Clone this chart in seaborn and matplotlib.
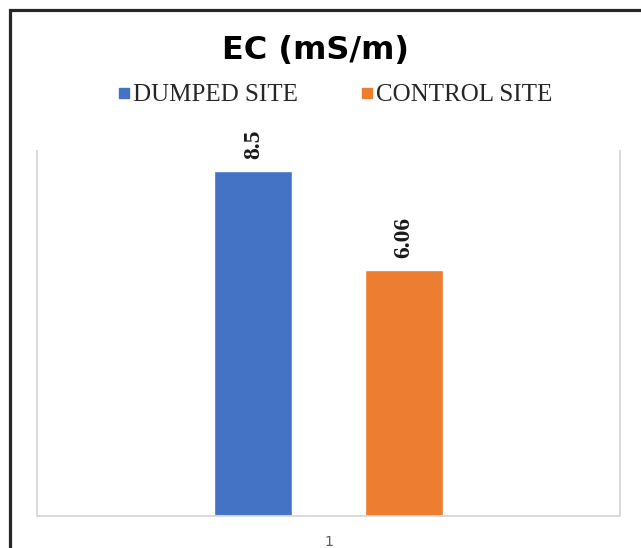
import matplotlib
matplotlib.use("Agg")
import matplotlib.pyplot as plt
import seaborn as sns
import pandas as pd
from matplotlib.patches import Rectangle
from matplotlib.lines import Line2D

categories = ["1"]
series = ["DUMPED SITE", "CONTROL SITE"]
values = [8.5, 6.06]
value_labels = ["8.5", "6.06"]
colors = ["#4472C4", "#ED7D31"]
title = "EC (mS/m)"

df = pd.DataFrame({"cat": categories * len(series), "site": series, "ec": values})

sns.set_theme(style="white")
W, H = 641, 548
fig = plt.figure(figsize=(W / 100, H / 100), dpi=100)
ax = fig.add_axes([37 / W, 1 - 516 / H, (620 - 37) / W, (516 - 151) / H])

sns.barplot(data=df, x="cat", y="ec", hue="site", palette=colors,
            width=0.515, gap=0.48, saturation=1, legend=False, ax=ax)

ax.set_xlim(-0.5, 0.5)
ax.set_ylim(0, 9)
ax.set_yticks([])
ax.set_xlabel("")
ax.set_ylabel("")
ax.tick_params(axis="x", length=0, pad=14, labelsize=10, labelcolor="#595959")
for s in ["left", "right", "bottom"]:
    ax.spines[s].set_visible(True)
    ax.spines[s].set_color("#D9D9D9")
    ax.spines[s].set_linewidth(1.4)
ax.spines["top"].set_visible(False)

for cont, lab in zip(ax.containers, value_labels):
    for bar in cont:
        ax.annotate(lab, (bar.get_x() + bar.get_width() / 2, bar.get_height()),
                    xytext=(0, 9), textcoords="offset points", rotation=90,
                    ha="center", va="bottom", family="Liberation Serif",
                    fontweight="bold", fontsize=17, color="#1a1a1a")

fig.text(315 / W, 1 - 50 / H, title, ha="center", va="center",
         fontsize=23, fontweight="bold", color="black")

handles = [Line2D([0], [0], marker="s", linestyle="none", markersize=7,
                  markerfacecolor=c, markeredgecolor=c) for c in colors]
fig.legend(handles, series, loc="center", bbox_to_anchor=(335 / W, 1 - 95 / H),
           ncol=2, frameon=False, handlelength=0.5, handletextpad=0.1,
           columnspacing=2.5, prop={"family": "Liberation Serif", "size": 18},
           labelcolor="#262626")

fig.patches.append(Rectangle((10 / W, -0.1), 1.2, 1.1 - 10 / H, transform=fig.transFigure,
                             fill=False, edgecolor="#262626", linewidth=2.3))

fig.savefig("out.png", dpi=100, facecolor="white")
